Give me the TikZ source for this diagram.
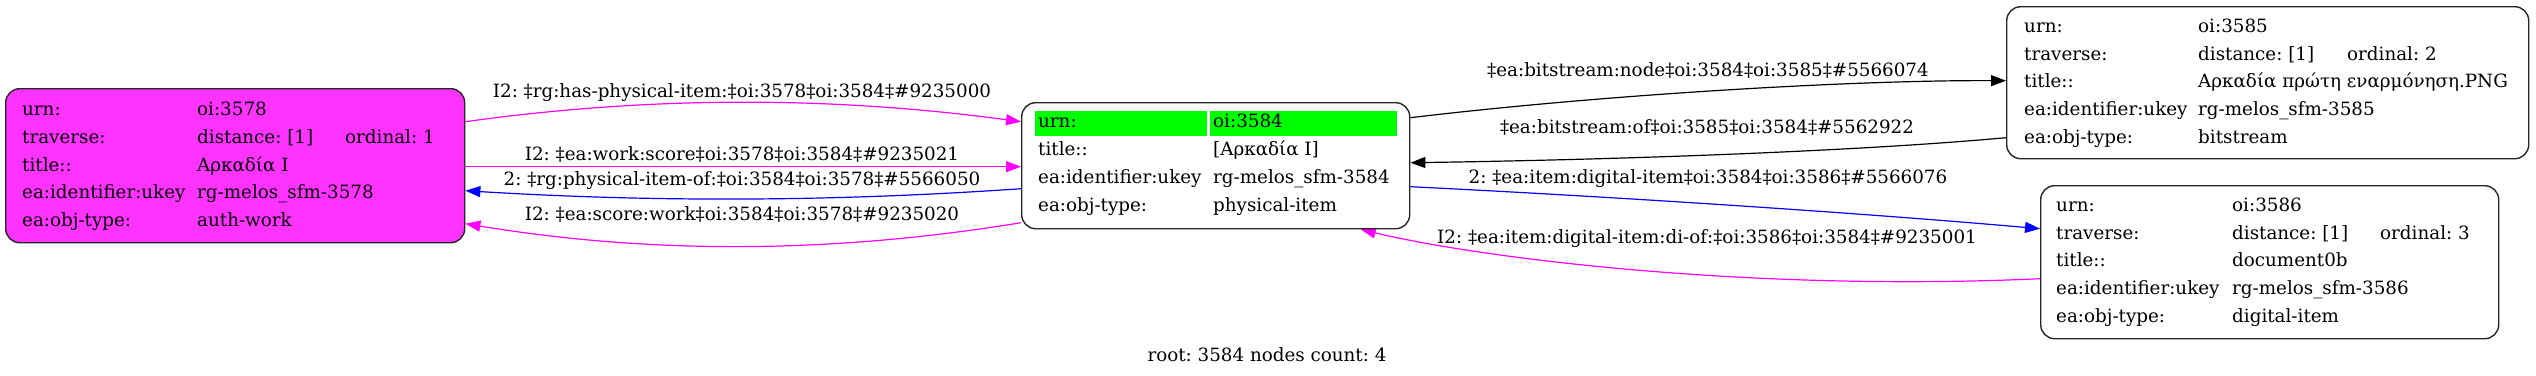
\documentclass[tikz,border=0pt]{standalone}
\usepackage{fontspec}
\setmainfont{DejaVu Serif}
\usetikzlibrary{arrows.meta,backgrounds}
\definecolor{amag}{HTML}{FF33FF}
\definecolor{emag}{HTML}{FF00FF}
\definecolor{eblue}{HTML}{0000FF}
\definecolor{cgreen}{HTML}{00FF00}
\frenchspacing
\begin{document}
\begin{tikzpicture}[x=1pt,y=-1pt,
  every node/.style={font=\fontsize{18.3}{22}\selectfont\frenchspacing, inner sep=0pt},
  box/.style={draw=black!85, line width=1.4pt, rounded corners=14pt, anchor=north west, fill=white},
  cell/.style={fill=cgreen, anchor=north west},
  txt/.style={anchor=base west},
  lbl/.style={anchor=base},
  conn/.style={line width=1.2pt, -{Triangle[length=15pt,width=11pt]}},
]
\useasboundingbox (0,0) rectangle (2536,375);

% boxes
\node[box, fill=amag, minimum width=459pt, minimum height=154pt] (A) at (5,88) {};
\node[box, minimum width=388pt, minimum height=126pt] (B) at (1021,102) {};
\node[box, minimum width=522pt, minimum height=152pt] (C) at (2006,6) {};
\node[box, minimum width=458pt, minimum height=153pt] (D) at (2040,185) {};

% A rows
\node[txt] (a1) at (22,115) {urn:};
\node[txt] (a1v) at (197,115) {oi:3578};
\node[txt] (a2) at (22,143) {traverse:};
\node[txt] (a2v) at (197,143) {distance: [1]};
\node[txt] (a2o) at (345,143) {ordinal: 1};
\node[txt] (a3) at (22,171) {title::};
\node[txt] (a3v) at (197,171) {Αρκαδία I};
\node[txt] (a4) at (22,198) {ea:identifier:ukey};
\node[txt] (a4v) at (197,198) {rg-melos\_sfm-3578};
\node[txt] (a5) at (22,226) {ea:obj-type:};
\node[txt] (a5v) at (197,226) {auth-work};

% B rows
\node[cell, minimum width=172pt, minimum height=25pt] (bc1) at (1035,111) {};
\node[cell, minimum width=187pt, minimum height=25pt] (bc2) at (1210,111) {};
\node[txt] (b1) at (1038,127) {urn:};
\node[txt] (b1v) at (1213,127) {oi:3584};
\node[txt] (b2) at (1038,155) {title::};
\node[txt] (b2v) at (1213,155) {[Αρκαδία I]};
\node[txt] (b3) at (1038,183) {ea:identifier:ukey};
\node[txt] (b3v) at (1213,183) {rg-melos\_sfm-3584};
\node[txt] (b4) at (1038,211) {ea:obj-type:};
\node[txt] (b4v) at (1213,211) {physical-item};

% C rows
\node[txt] (c1) at (2024,32) {urn:};
\node[txt] (c1v) at (2198,32) {oi:3585};
\node[txt] (c2) at (2024,60) {traverse:};
\node[txt] (c2v) at (2198,60) {distance: [1]};
\node[txt] (c2o) at (2347,60) {ordinal: 2};
\node[txt] (c3) at (2024,87) {title::};
\node[txt] (c3v) at (2198,87) {Αρκαδία πρώτη εναρμόνηση.PNG};
\node[txt] (c4) at (2024,115) {ea:identifier:ukey};
\node[txt] (c4v) at (2198,115) {rg-melos\_sfm-3585};
\node[txt] (c5) at (2024,143) {ea:obj-type:};
\node[txt] (c5v) at (2198,143) {bitstream};

% D rows
\node[txt] (d1) at (2056,211) {urn:};
\node[txt] (d1v) at (2232,211) {oi:3586};
\node[txt] (d2) at (2056,239) {traverse:};
\node[txt] (d2v) at (2232,239) {distance: [1]};
\node[txt] (d2o) at (2380,239) {ordinal: 3};
\node[txt] (d3) at (2056,266) {title::};
\node[txt] (d3v) at (2232,266) {document0b};
\node[txt] (d4) at (2056,294) {ea:identifier:ukey};
\node[txt] (d4v) at (2232,294) {rg-melos\_sfm-3586};
\node[txt] (d5) at (2056,322) {ea:obj-type:};
\node[txt] (d5v) at (2232,322) {digital-item};

% edges
\begin{scope}[on background layer]
\draw[conn, emag] ([yshift=44pt]A.east) .. controls (650,96) and (830,96) .. ([yshift=44pt]B.west);
\draw[conn, emag] ([yshift=-1pt]A.east) -- ([yshift=-1pt]B.west);
\draw[conn, eblue] ([yshift=-23pt]B.west) .. controls (830,202) and (650,202) .. ([yshift=-25pt]A.east);
\draw[conn, emag] ([yshift=-57pt]B.west) .. controls (830,254) and (650,254) .. ([yshift=-58pt]A.east);
\draw[conn, black] ([yshift=48pt]B.east) .. controls (1600,95) and (1850,80) .. ([yshift=2pt]C.west);
\draw[conn, black] ([yshift=-55pt]C.west) .. controls (1850,152) and (1600,160) .. ([yshift=3pt]B.east);
\draw[conn, eblue] ([yshift=-21pt]B.east) .. controls (1600,196) and (1850,212) .. ([yshift=33.5pt]D.west);
\draw[conn, emag] ([yshift=-16.5pt]D.west) .. controls (1750,292) and (1480,258) .. ([xshift=145pt]B.south);
\end{scope}

% edge labels
\node[lbl] (l1) at (742,97) {I2: ‡rg:has-physical-item:‡oi:3578‡oi:3584‡\#9235000};
\node[lbl] (l2) at (742,160) {I2: ‡ea:work:score‡oi:3578‡oi:3584‡\#9235021};
\node[lbl] (l3) at (742,185) {2: ‡rg:physical-item-of:‡oi:3584‡oi:3578‡\#5566050};
\node[lbl] (l4) at (742,220) {I2: ‡ea:score:work‡oi:3584‡oi:3578‡\#9235020};
\node[lbl] (l5) at (1708,76) {‡ea:bitstream:node‡oi:3584‡oi:3585‡\#5566074};
\node[lbl] (l6) at (1707,133) {‡ea:bitstream:of‡oi:3585‡oi:3584‡\#5562922};
\node[lbl] (l7) at (1708,183) {2: ‡ea:item:digital-item‡oi:3584‡oi:3586‡\#5566076};
\node[lbl] (l8) at (1707,243) {I2: ‡ea:item:digital-item:di-of:‡oi:3586‡oi:3584‡\#9235001};

% caption
\node[lbl] (cap) at (1267,361) {root: 3584 nodes count: 4};
\end{tikzpicture}
\end{document}
